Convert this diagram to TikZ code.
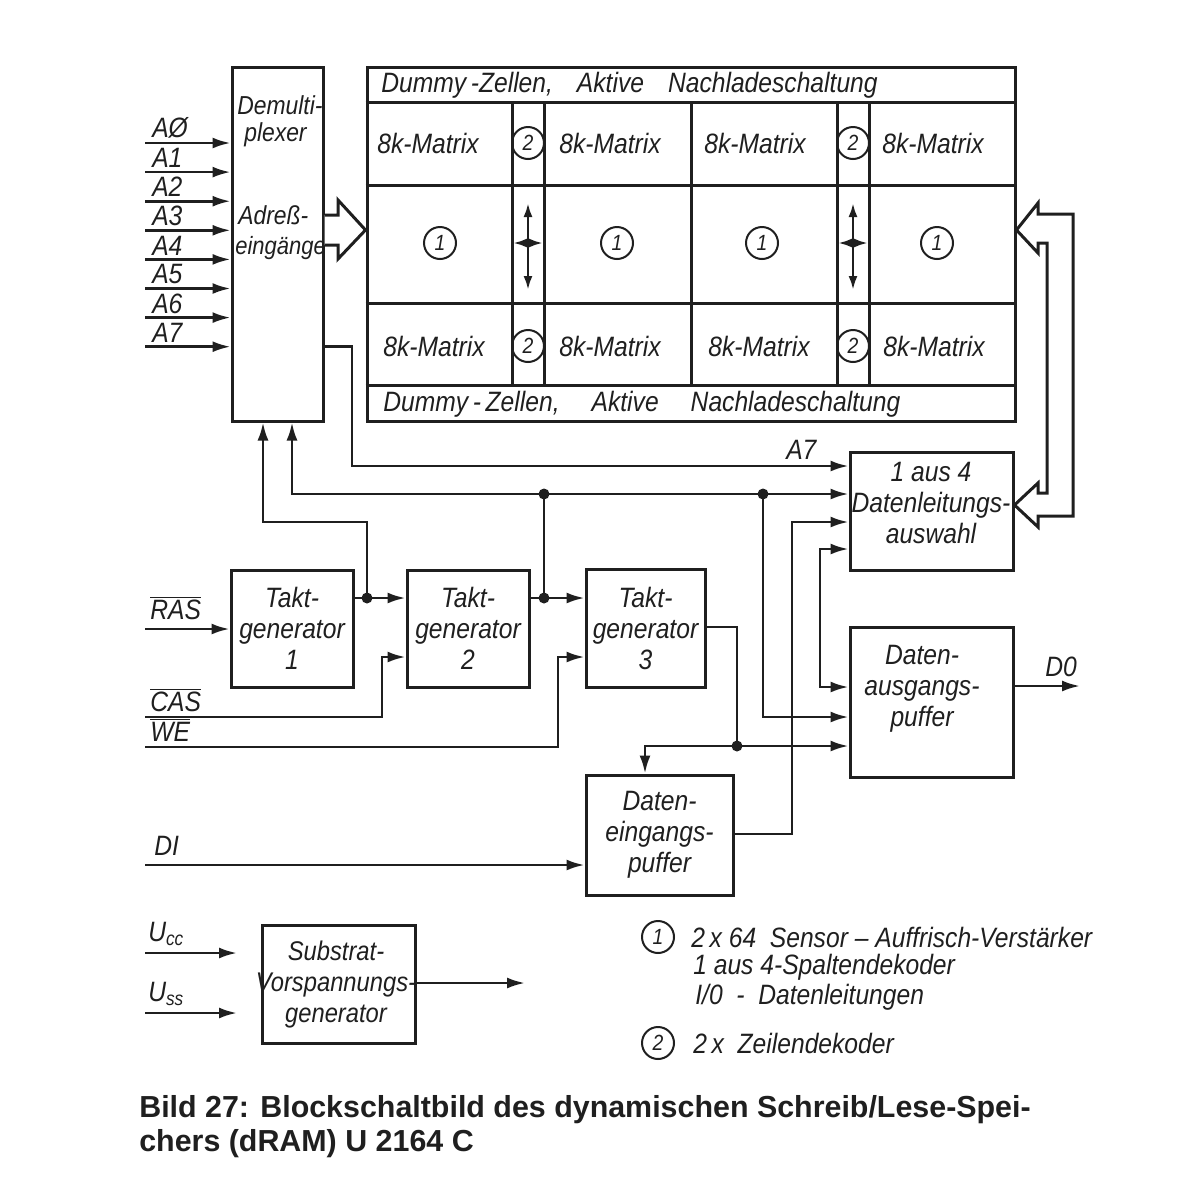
\documentclass[tikz,border=0pt]{standalone}
\usepackage{fontspec}
\setmainfont[FakeStretch=0.88]{Liberation Sans}
\newfontfamily\capfont{Liberation Sans}
\usetikzlibrary{arrows.meta}
\begin{document}
\begin{tikzpicture}
  [x=0.5pt, y=-0.5pt, line width=1.3pt, color=black!88,
   every node/.style={inner sep=0pt, font=\itshape\fontsize{14}{15.5}\selectfont},
   blk/.style={draw, line width=1.5pt, align=center},
   lbl/.style={anchor=south west},
   num/.style={draw, circle, line width=1pt, minimum size=16pt, font=\itshape\fontsize{11}{11}\selectfont},
   arr/.style={-{Latex[length=9pt,width=5.5pt]}},
   darr/.style={{Latex[length=7pt,width=4.5pt]}-{Latex[length=7pt,width=4.5pt]}},
   jn/.style={circle, fill, minimum size=5.5pt}]
  \useasboundingbox (0,0) rectangle (1200,1200);
  \node[blk, minimum width=45.5pt, minimum height=177pt] (demux) at (277.5,244) {};
  \node[blk, minimum width=324pt, minimum height=177pt] (mat) at (691,244) {};
  \node[blk, minimum width=61pt, minimum height=58.5pt] (tg1) at (292,628.5) {Takt-\\generator\\1};
  \node[blk, minimum width=61pt, minimum height=58.5pt] (tg2) at (468,628.5) {Takt-\\generator\\2};
  \node[blk, minimum width=59.5pt, minimum height=59pt] (tg3) at (645.5,628) {Takt-\\generator\\3};
  \node[blk, minimum width=81.5pt, minimum height=59pt] (sel) at (931.5,511) {};
  \node[blk, minimum width=81.5pt, minimum height=75pt] (dout) at (931.5,702) {};
  \node[blk, minimum width=73.5pt, minimum height=60pt] (din) at (659.5,835) {Daten-\\eingangs-\\puffer};
  \node[blk, minimum width=76.5pt, minimum height=59pt] (subst) at (338.5,984) {};
  \node[anchor=west, font=\itshape\fontsize{13}{15.5}\selectfont] (dm1) at (236,105) {Demulti-};
  \node[anchor=west, font=\itshape\fontsize{13}{15.5}\selectfont] (dm2) at (243,135) {plexer};
  \node[anchor=west, font=\itshape\fontsize{13}{15.5}\selectfont] (dm3) at (237,215) {Adreß-};
  \node[anchor=west, font=\itshape\fontsize{12.5}{15.5}\selectfont] (dm4) at (234,248) {eingänge};
  \node[align=center] (selt) at (931,503) {1 aus 4\\Datenleitungs-\\auswahl};
  \node[align=center] (doutt) at (922,689) {Daten-\\ausgangs-\\puffer};
  \node[align=center, font=\itshape\fontsize{13.5}{15.5}\selectfont] (substt) at (336,985) {Substrat-\\Vorspannungs-\\generator};
  \foreach \y in {102,185,303,385}
    \draw[line width=1.5pt] (mat.west |- 0,\y) -- (mat.east |- 0,\y);
  \foreach \x in {512,544,691,837,869}
    \draw[line width=1.5pt] (\x,102) -- (\x,385);
  \node[anchor=west] (dz1) at (380,85) {Dummy\,-Zellen,\hspace{12pt}Aktive\hspace{12pt}Nachladeschaltung};
  \node[anchor=west] (dz2) at (382,404) {Dummy\,-\,Zellen,\hspace{16pt}Aktive\hspace{16pt}Nachladeschaltung};
  \foreach \x/\y [count=\k] in {428/143,610/143,755/143,933/143,434/346,610/346,759/346,934/346}
    \node (mx\k) at (\x,\y) {8k-Matrix};
  \foreach \x [count=\k] in {440,617,762,937}
    \node[num] (s\k) at (\x,243) {1};
  \foreach \x/\y [count=\k] in {528/143,853/143,528/346,853/346}
    \node[num] (z\k) at (\x,\y) {2};
  \foreach \x in {528,853} {
    \draw[darr] (\x,203) -- (\x,290);
    \draw[darr] (\x-15,243) -- (\x+15,243);
  }
  \draw[line width=1.5pt, fill=white] (demux.east |- 0,215) -- (338,215) -- (338,200) -- (mat.west |- 0,230)
    -- (338,259) -- (338,245) -- (demux.east |- 0,245);
  \draw[line width=1.5pt, fill=white] (mat.east |- 0,230) -- (1038,203) -- (1038,214) -- (1073,214) -- (1073,516)
    -- (1038,516) -- (1038,527) -- (sel.east |- 0,505) -- (1038,483) -- (1038,493) -- (1047,493)
    -- (1047,243) -- (1038,243) -- (1038,253) -- cycle;
  \foreach \i/\t in {0/AØ,1/A1,2/A2,3/A3,4/A4,5/A5,6/A6,7/A7} {
    \coordinate (a\i) at (145,143+29.1*\i);
    \draw[arr] (a\i) -- (a\i -| demux.west);
    \node[lbl] (la\i) at ([xshift=3pt,yshift=1.5pt]a\i) {\t};
  }
  \coordinate (ras) at (145,629);
  \draw[arr] (ras) -- (ras -| tg1.west);
  \node[lbl] (lras) at ([xshift=2pt,yshift=4pt]ras) {$\overline{\mbox{RAS}}$};
  \coordinate (j1) at (367,598);
  \draw[arr] (tg1.east |- j1) -- (tg2.west |- j1);
  \draw[arr] (j1) |- (263,522) -- (263,0 |- demux.south);
  \node[jn] (d1) at (j1) {};
  \coordinate (j2) at (544,598);
  \coordinate (j3) at (544,494);
  \coordinate (j4) at (763,494);
  \draw[arr] (tg2.east |- j2) -- (tg3.west |- j2);
  \draw (j2) -- (j3);
  \draw[arr] (j3) -| (292,0 |- demux.south);
  \draw[arr] (j3) -- (sel.west |- j3);
  \draw[arr] (j4) |- (dout.west |- 0,717);
  \node[jn] (d2) at (j2) {};
  \node[jn] (d3) at (j3) {};
  \node[jn] (d4) at (j4) {};
  \draw[arr] (demux.east |- a7) -| (352,466) -- (sel.west |- 0,466);
  \node[lbl] (la7r) at (785,461) {A7};
  \coordinate (cas) at (145,717);
  \draw[arr] (cas) -| (382,657) -- (tg2.west |- 0,657);
  \node[lbl] (lcas) at ([xshift=2pt,yshift=2pt]cas) {$\overline{\mbox{CAS}}$};
  \coordinate (we) at (145,747);
  \draw[arr] (we) -| (558,657) -- (tg3.west |- 0,657);
  \node[lbl] (lwe) at ([xshift=2pt,yshift=2pt]we) {$\overline{\mbox{WE}}$};
  \coordinate (j5) at (737,746);
  \draw (tg3.east |- 0,627) -| (j5);
  \draw[arr] (j5) -| (645,0 |- din.north);
  \draw[arr] (j5) -- (dout.west |- j5);
  \node[jn] (d5) at (j5) {};
  \draw[arr] (din.east |- 0,834) -| (792,522) -- (sel.west |- 0,522);
  \coordinate (k) at (820,618);
  \draw[arr] (k) |- (sel.west |- 0,549);
  \draw[arr] (k) |- (dout.west |- 0,687);
  \coordinate (di) at (145,865);
  \draw[arr] (di) -- (din.west |- di);
  \node[lbl] (ldi) at ([xshift=4pt,yshift=4pt]di) {DI};
  \coordinate (dq) at (1080,686);
  \draw[arr] (dout.east |- dq) -- (dq);
  \node[lbl] (ldq) at ([xshift=-18pt,yshift=4pt]dq) {D0};
  \coordinate (ucc) at (145,953);
  \coordinate (ucce) at (237,953);
  \draw[arr] (ucc) -- (ucce);
  \node[lbl] (lucc) at ([xshift=1pt,yshift=3pt]ucc) {U\textsubscript{cc}};
  \coordinate (uss) at (145,1013);
  \coordinate (usse) at (237,1013);
  \draw[arr] (uss) -- (usse);
  \node[lbl] (luss) at ([xshift=1pt,yshift=3pt]uss) {U\textsubscript{ss}};
  \coordinate (sube) at (525,983);
  \draw[arr] (subst.east |- sube) -- (sube);
  \node[num] (lg1) at (658,937) {1};
  \node[anchor=west] (lt1) at (690,937) {2\,x 64\ \ Sensor -- Auffrisch-Verstärker};
  \node[anchor=west] (lt2) at (692,967) {1 aus 4-Spaltendekoder};
  \node[anchor=west] (lt3) at (694,997) {I/0\ \ -\ \ Datenleitungen};
  \node[num] (lg2) at (658,1043) {2};
  \node[anchor=west] (lt4) at (692,1043) {2\,x\ \ Zeilendekoder};
  \node[anchor=base west, font=\capfont\bfseries\fontsize{15.2}{18}\selectfont] (cap1) at (138,1117)
    {Bild 27: Blockschaltbild des dynamischen Schreib/Lese-Spei-};
  \node[anchor=base west, font=\capfont\bfseries\fontsize{15.2}{18}\selectfont] (cap2) at (138,1151)
    {chers (dRAM) U 2164 C};
\end{tikzpicture}
\end{document}
